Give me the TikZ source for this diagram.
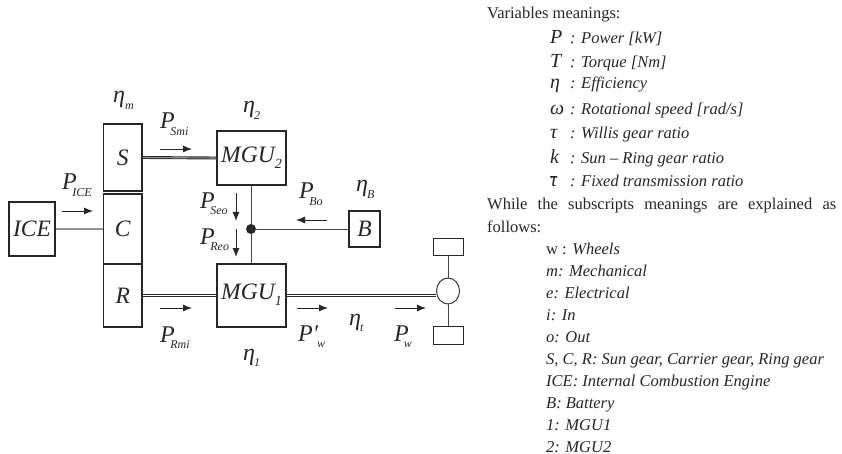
\documentclass[tikz,border=0pt]{standalone}
\usepackage{fontspec}
\setmainfont{Liberation Serif}
\usetikzlibrary{arrows.meta,shapes.geometric}
\definecolor{ink}{gray}{0.15}
\newcommand{\fsz}[1]{\fontsize{#1}{#1}\selectfont}
\newcommand{\Psub}[3]{{\fsz{24}\itshape #1}\kern#3\raisebox{-6.5pt}{\fsz{12}\itshape #2}}
\newcommand{\legline}[2]{\makebox[20pt][l]{\fsz{20}\itshape #1}{\itshape #2}}
\tikzset{
  x=1pt,y=-1pt,
  every node/.style={text=ink},
  blockbox/.style={draw=ink,line width=1.5pt,fill=white,inner sep=0pt,font=\fsz{23.5}\itshape},
  wheelbox/.style={draw=ink,line width=0.9pt,fill=white,inner sep=0pt},
  shaft/.style={draw=ink,line width=0.9pt,double=white,double distance=1.1pt},
  greyshaft/.style={draw=ink,line width=0.9pt,double=ink!50,double distance=1.1pt},
  elec/.style={draw=ink!85,line width=1pt},
  flow/.style={draw=ink,line width=0.9pt,-{Latex[length=9pt,width=7pt]}},
  lab/.style={anchor=base west,inner sep=0pt},
  legend/.style={anchor=base west,inner sep=0pt,font=\fsz{16.5}},
  legendit/.style={legend,font=\fsz{16.5}\itshape},
}
\begin{document}
\begin{tikzpicture}
\useasboundingbox (0,0) rectangle (842,454);
% blocks
\node[blockbox,minimum width=46pt,minimum height=54pt] (ice) at (32,229) {ICE};
\node[blockbox,minimum width=38.5pt,minimum height=67pt] (s) at (122.75,157.5) {S};
\node[blockbox,minimum width=38.5pt,minimum height=70pt] (c) at (122.75,229) {C};
\node[blockbox,minimum width=38.5pt,minimum height=63pt] (r) at (122.75,295.5) {R};
\node[blockbox,minimum width=69pt,minimum height=54pt] (mgu2) at (251.5,158) {MGU\raisebox{-6pt}{\fsz{14}2}};
\node[blockbox,minimum width=69pt,minimum height=63pt] (mgu1) at (251.5,295.5) {\raisebox{7pt}{MGU\raisebox{-6pt}{\fsz{14}1}}};
\node[blockbox,minimum width=31pt,minimum height=36pt] (b) at (364.5,229) {B};
% wheels
\node[wheelbox,minimum width=30pt,minimum height=17pt] (wt) at (448,246.5) {};
\node[wheelbox,minimum width=30pt,minimum height=18pt] (wb) at (448,335) {};
\node[wheelbox,ellipse,minimum width=23pt,minimum height=26pt] (axle) at (448,291) {};
\node[circle,fill=ink,inner sep=0pt,minimum size=10pt] (dot) at (251,229) {};
% connectors
\draw[greyshaft] (ice.east) -- (c.west);
\draw[greyshaft] (s.east) -- (mgu2.west);
\draw[shaft] (r.east) -- (mgu1.west);
\draw[shaft] (mgu1.east) -- (mgu1.east -| axle.west);
\draw[elec] (mgu2.south -| dot) -- (dot);
\draw[elec] (dot) -- (mgu1.north -| dot);
\draw[elec] (dot) -- (b.west);
\draw[elec] (wt.south) -- (axle.north);
\draw[elec] (axle.south) -- (wb.north);
% flow arrows
\coordinate (a1) at (62,211); \coordinate (a2) at (93,211);
\coordinate (b1) at (160,149); \coordinate (b2) at (192,149);
\coordinate (c1) at (160,308); \coordinate (c2) at (192,308);
\coordinate (d1) at (297,308); \coordinate (d2) at (328,308);
\coordinate (e1) at (395,308); \coordinate (e2) at (426,308);
\coordinate (f1) at (327,220); \coordinate (f2) at (296,220);
\coordinate (g1) at (236,193); \coordinate (g2) at (236,221);
\coordinate (h1) at (236,229); \coordinate (h2) at (236,257);
\draw[flow] (a1) -- (a2);
\draw[flow] (b1) -- (b2);
\draw[flow] (c1) -- (c2);
\draw[flow] (d1) -- (d2);
\draw[flow] (e1) -- (e2);
\draw[flow] (f1) -- (f2);
\draw[flow] (g1) -- (g2);
\draw[flow] (h1) -- (h2);
% labels
\node[lab] (lice) at (62,190) {\Psub{P}{ICE}{-4.5pt}};
\node[lab] (lsmi) at (160,129) {\Psub{P}{Smi}{-4.5pt}};
\node[lab] (lseo) at (200,208) {\Psub{P}{Seo}{-4.5pt}};
\node[lab] (lreo) at (200,244) {\Psub{P}{Reo}{-4.5pt}};
\node[lab] (lrmi) at (160,342) {\Psub{P}{Rmi}{-4.5pt}};
\node[lab] (lbo) at (299,199) {\Psub{P}{Bo}{-4.5pt}};
\node[lab] (lpw) at (298,341) {\Psub{P′}{w}{-1pt}};
\node[lab] (lw) at (394,341) {\Psub{P}{w}{-5pt}};
\node[lab] (etam) at (113,103) {\Psub{η}{m}{0pt}};
\node[lab] (eta2) at (243,113) {\Psub{η}{2}{-1pt}};
\node[lab] (etab) at (356,192) {\Psub{η}{B}{-1pt}};
\node[lab] (etat) at (349,325) {\Psub{η}{t}{-1pt}};
\node[lab] (eta1) at (243,360) {\Psub{η}{1}{-1pt}};
% legend
\node[legend] (t0) at (487,19) {Variables meanings:};
\node[legend] (t1) at (550,44) {\legline{P}{: Power [kW]}};
\node[legend] (t2) at (550,68) {\legline{T}{: Torque [Nm]}};
\node[legend] (t3) at (550,89) {\legline{η}{: Efficiency}};
\node[legend] (t4) at (550,115) {\legline{ω}{: Rotational speed [rad/s]}};
\node[legend] (t5) at (550,139) {\legline{τ}{: Willis gear ratio}};
\node[legend] (t6) at (550,164) {\legline{k}{: Sun – Ring gear ratio}};
\node[legend] (t7) at (550,187) {\legline{$\overline{\mbox{\itshape τ}}$}{: Fixed transmission ratio}};
\node[legend] (t8) at (487,210) {\makebox[349pt][s]{While\hfill the\hfill subscripts\hfill meanings\hfill are\hfill explained\hfill as}};
\node[legend] (t9) at (487,233) {follows:};
\node[legend] (u0) at (546,254) {w : \textit{Wheels}};
\node[legendit] (u1) at (546,276) {m: Mechanical};
\node[legendit] (u2) at (546,298) {e: Electrical};
\node[legendit] (u3) at (546,320) {i: In};
\node[legendit] (u4) at (546,342) {o: Out};
\node[legendit] (u5) at (546,364) {S, C, R: Sun gear, Carrier gear, Ring gear};
\node[legendit] (u6) at (546,386) {ICE: Internal Combustion Engine};
\node[legendit] (u7) at (546,408) {B: Battery};
\node[legendit] (u8) at (546,430) {1: MGU1};
\node[legendit] (u9) at (546,452) {2: MGU2};
\end{tikzpicture}
\end{document}
